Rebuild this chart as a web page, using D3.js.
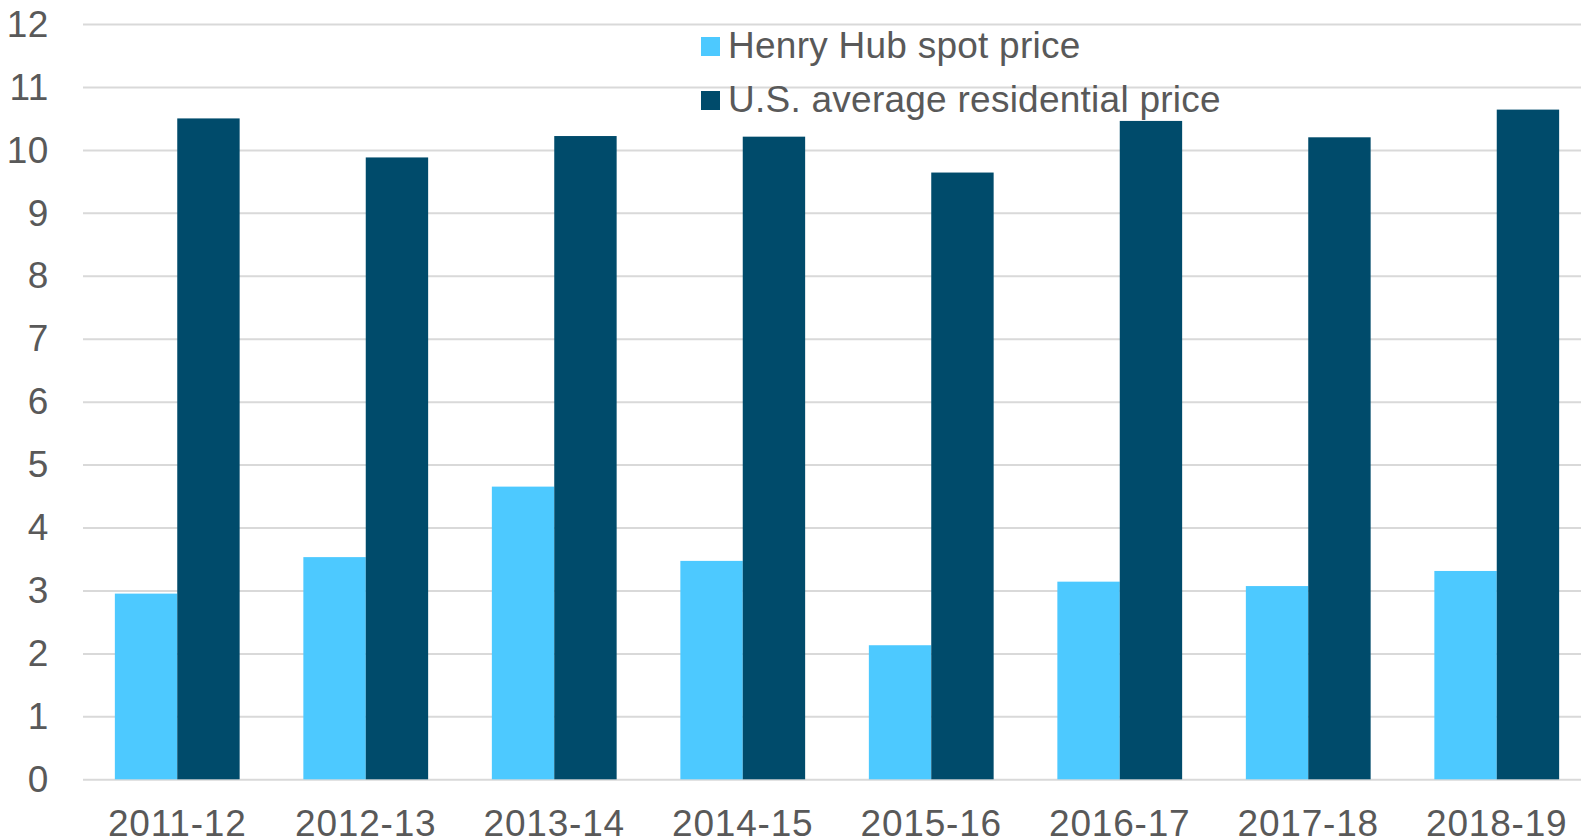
<!DOCTYPE html>
<html>
<head>
<meta charset="utf-8">
<script src="https://cdn.jsdelivr.net/npm/d3@7"></script>
<style>
    html, body { margin: 0; padding: 0; background: #fff; }
    svg { display: block; font-family: "Liberation Sans", Arial, sans-serif; }
</style>
</head>
<body>
<div id="chart"></div>
<script>
const years = ['2011-12', '2012-13', '2013-14', '2014-15', '2015-16', '2016-17', '2017-18', '2018-19'];
const henryHub = [2.95, 3.53, 4.65, 3.47, 2.13, 3.14, 3.07, 3.31];
const residential = [10.50, 9.88, 10.22, 10.21, 9.64, 10.46, 10.20, 10.64];
const seriesNames = ['Henry Hub spot price', 'U.S. average residential price'];
const yTicks = [0, 1, 2, 3, 4, 5, 6, 7, 8, 9, 10, 11, 12];

const colors = ['#4dc9ff', '#004b6b'];
const textColor = '#595959';

const width = 1581;
const height = 839;
const margin = { top: 24, right: -10, bottom: 60, left: 83 };

const svg = d3.select('#chart')
    .append('svg')
    .attr('width', width)
    .attr('height', height);

const x0 = d3.scaleBand()
    .domain(years)
    .range([margin.left, width - margin.right])
    .paddingInner(0.338)
    .paddingOuter(0.169);

const x1 = d3.scaleBand()
    .domain(seriesNames)
    .range([0, x0.bandwidth()]);

const y = d3.scaleLinear()
    .domain([0, 12])
    .range([height - margin.bottom + 0.3, margin.top]);

// gridlines
svg.append('g')
    .attr('class', 'grid')
    .attr('transform', `translate(${margin.left},0)`)
    .call(d3.axisLeft(y).tickValues(yTicks).tickSize(-(width - margin.left)).tickFormat(''))
    .call(g => g.select('.domain').remove())
    .call(g => g.selectAll('line').attr('stroke', '#d9d9d9').attr('stroke-width', 2));

// bars
const rows = years.map((yr, i) => ({ year: yr, values: [henryHub[i], residential[i]] }));

svg.append('g')
    .selectAll('g')
    .data(rows)
    .join('g')
    .attr('transform', d => `translate(${x0(d.year)},0)`)
    .selectAll('rect')
    .data(d => d.values.map((v, j) => ({ key: seriesNames[j], value: v, idx: j })))
    .join('rect')
    .attr('x', d => x1(d.key))
    .attr('y', d => y(d.value))
    .attr('width', x1.bandwidth())
    .attr('height', d => y(0) - y(d.value))
    .attr('fill', d => colors[d.idx]);

// y axis
svg.append('g')
    .attr('transform', `translate(${margin.left},0)`)
    .call(d3.axisLeft(y).tickValues(yTicks).tickSize(0).tickPadding(34).tickFormat(d3.format('d')))
    .call(g => g.select('.domain').remove())
    .call(g => g.selectAll('text')
        .attr('fill', textColor)
        .attr('dy', '0.33em')
        .style('font-size', '37px')
        .style('letter-spacing', '0.6px')
        .style('font-family', '"Liberation Sans", Arial, sans-serif'));

// x axis
svg.append('g')
    .attr('transform', `translate(0,${y(0)})`)
    .call(d3.axisBottom(x0).tickSize(0).tickPadding(30))
    .call(g => g.select('.domain').remove())
    .call(g => g.selectAll('text')
        .attr('fill', textColor)
        .style('font-size', '37px')
        .style('letter-spacing', '0.8px')
        .style('font-family', '"Liberation Sans", Arial, sans-serif'));

// legend
const legend = svg.append('g')
    .attr('transform', 'translate(701,37)');

const legendItems = legend.selectAll('g')
    .data(seriesNames)
    .join('g')
    .attr('transform', (d, i) => `translate(0,${i * 54})`);

legendItems.append('rect')
    .attr('width', 19)
    .attr('height', 19)
    .attr('fill', (d, i) => colors[i]);

legendItems.append('text')
    .attr('x', 27)
    .attr('y', 20.5)
    .attr('fill', textColor)
    .style('font-size', '37px')
    .style('letter-spacing', '0.25px')
    .text(d => d);
</script>
</body>
</html>
